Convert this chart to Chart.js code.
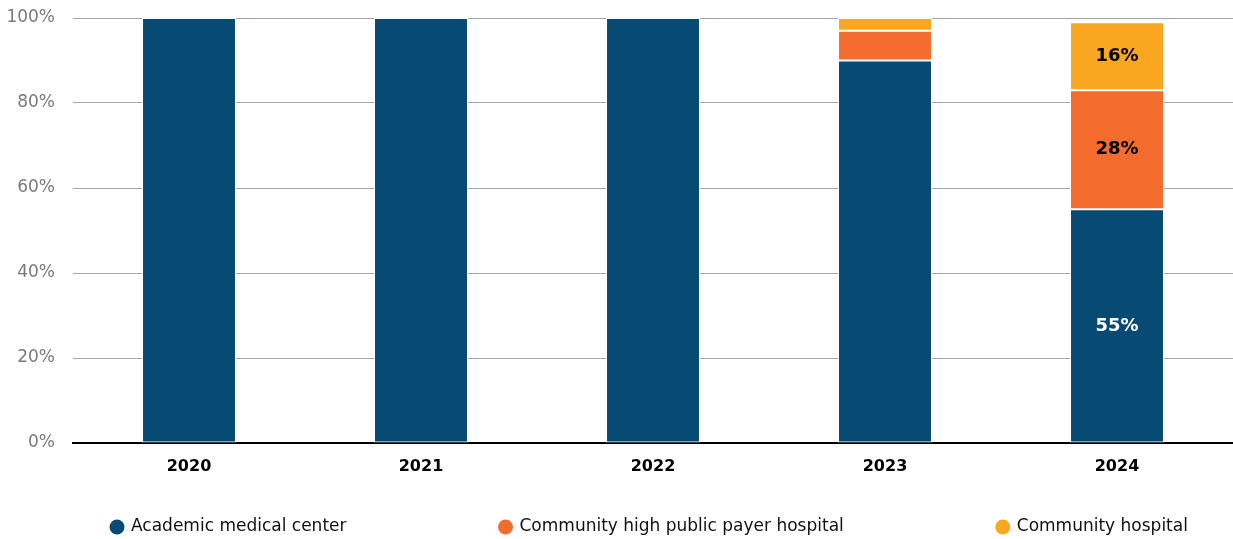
<!DOCTYPE html>
<html>
<head>
<meta charset="utf-8">
<script src="https://cdn.jsdelivr.net/npm/chart.js@4/dist/chart.umd.min.js"></script>
<style>
  html, body { margin: 0; padding: 0; background: #fff; }
  #wrap { width: 1233px; height: 539px; }
</style>
</head>
<body>
<div id="wrap"><canvas id="myChart"></canvas></div>
<script>
const years = ["2020", "2021", "2022", "2023", "2024"];
const academic = [100, 100, 100, 90, 55];
const highPublic = [0, 0, 0, 7, 28];
const community = [0, 0, 0, 3, 16];
// only the last year carries value labels
const showLabels = [false, false, false, false, true];
const yTicks = [0, 20, 40, 60, 80, 100];

const fontFam = "'DejaVu Sans', 'Liberation Sans', sans-serif";

const barLabels = {
  id: "barLabels",
  afterDatasetsDraw(chart) {
    const ctx = chart.ctx;
    ctx.save();
    ctx.font = "bold 18px " + fontFam;
    ctx.textAlign = "center";
    ctx.textBaseline = "middle";
    chart.data.datasets.forEach((ds, i) => {
      const meta = chart.getDatasetMeta(i);
      meta.data.forEach((bar, j) => {
        if (!showLabels[j] || !ds.data[j]) return;
        const mid = (bar.y + bar.base) / 2;
        ctx.fillStyle = ds.labelColor;
        ctx.fillText(ds.data[j] + "%", bar.x, mid);
      });
    });
    ctx.restore();
  }
};

// legend spread across the bottom like the original
const bottomLegend = {
  id: "bottomLegend",
  afterDraw(chart) {
    const ctx = chart.ctx;
    ctx.save();
    ctx.font = "17px " + fontFam;
    ctx.textBaseline = "middle";
    const y = 527;
    const gap = 152;
    let x = 110;
    chart.data.datasets.forEach(ds => {
      ctx.fillStyle = ds.backgroundColor;
      ctx.beginPath();
      ctx.arc(x + 7, y, 7.5, 0, Math.PI * 2);
      ctx.fill();
      ctx.fillStyle = "#111111";
      ctx.fillText(ds.label, x + 21, y);
      x += 21 + ctx.measureText(ds.label).width + gap;
    });
    ctx.restore();
  }
};

const ctx = document.getElementById("myChart");
new Chart(ctx, {
  type: "bar",
  data: {
    labels: years,
    datasets: [
      { label: "Academic medical center", data: academic, backgroundColor: "#074a74", labelColor: "#ffffff" },
      { label: "Community high public payer hospital", data: highPublic, backgroundColor: "#f36c2d", labelColor: "#000000" },
      { label: "Community hospital", data: community, backgroundColor: "#f9a620", labelColor: "#000000" }
    ]
  },
  options: {
    responsive: true,
    maintainAspectRatio: false,
    animation: false,
    datasets: {
      bar: {
        barPercentage: 0.405,
        categoryPercentage: 1,
        borderColor: "#ffffff",
        borderWidth: 1,
        borderSkipped: false
      }
    },
    layout: { padding: { top: 18, right: 0, left: 0, bottom: 0 } },
    scales: {
      x: {
        stacked: true,
        afterFit(scale) { scale.height = 96; },
        grid: { display: false, drawTicks: false },
        border: { color: "#000000", width: 2 },
        ticks: {
          color: "#000000",
          font: { family: fontFam, size: 16, weight: "bold" },
          padding: 14
        }
      },
      y: {
        stacked: true,
        min: 0,
        max: 100,
        afterFit(scale) {
          scale.width = 73;
          scale.paddingTop = 0;
          scale.paddingBottom = 0;
        },
        afterBuildTicks(scale) { scale.ticks = yTicks.map(v => ({ value: v })); },
        grid: { color: "#a6a6a6", lineWidth: 1, drawTicks: false },
        border: { display: false },
        ticks: {
          color: "#7a7a7a",
          padding: 18,
          font: { family: fontFam, size: 17 },
          callback: v => v + "%"
        }
      }
    },
    plugins: {
      tooltip: { enabled: false },
      legend: { display: false }
    }
  },
  plugins: [barLabels, bottomLegend]
});
</script>
</body>
</html>
